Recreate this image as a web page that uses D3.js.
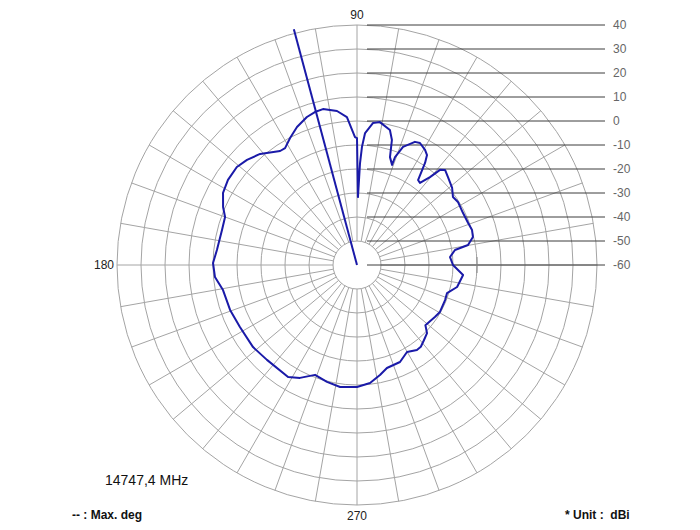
<!DOCTYPE html>
<html>
<head>
<meta charset="utf-8">
<script src="https://cdn.jsdelivr.net/npm/d3@7"></script>
<style>
  html, body { margin: 0; padding: 0; background: #ffffff; }
  svg { display: block; }
  text { white-space: pre; }
</style>
</head>
<body>
<div id="chart"></div>
<script>
// ---- data ----
const patternAngles = [0.0, 4.9, 8.7, 10.2, 13.6, 16.9, 20.7, 26.1, 32.0, 35.3, 39.0, 44.0, 47.2, 48.9,
  50.3, 52.5, 54.3, 56.3, 57.5, 59.4, 62.7, 64.8, 68.7, 70.6, 70.7, 73.0, 74.4, 76.3, 80.9, 83.6,
  86.5, 87.6, 88.3, 89.2, 90.0, 90.9, 92.1, 93.9, 97.4, 102.3, 105.4, 108.7, 113.5, 117.8, 121.6,
  124.0, 131.1, 136.3, 140.8, 146.6, 151.7, 156.6, 160.0, 165.5, 173.9, 179.2, 184.8, 190.6, 199.5,
  207.9, 218.3, 226.5, 238.4, 243.2, 249.1, 255.6, 262.1, 270.0, 276.3, 281.8, 286.2, 293.9, 299.9,
  305.2, 308.0, 311.5, 315.8, 318.6, 326.3, 330.5, 338.3, 342.7, 347.6, 354.6];
const patternGain = [-20.0, -21.1, -18.7, -13.0, -10.3, -9.9, -10.5, -10.8, -10.4, -11.0, -9.0, -7.3, -6.0, -7.4,
  -12.4, -16.9, -16.4, -8.9, -5.7, -4.3, -2.8, -3.3, -7.2, -12.3, -15.8, -13.0, -5.9, -2.1, 0.3, -0.5,
  -4.9, -10.8, -17.5, -31.7, -7.1, -6.7, -3.7, 1.8, 4.7, 6.5, 6.1, 5.1, 2.7, -0.2, -2.8,
  -2.7, 1.4, 3.4, 4.6, 4.4, 3.4, 0.8, -1.5, -1.9, -1.3, 0.0, -0.6, -3.2, -3.9,
  -4.8, -4.8, -5.5, -5.2, -7.3, -11.0, -9.7, -8.7, -9.2, -10.5, -13.2, -15.3, -15.8, -18.2,
  -16.7, -16.8, -18.0, -19.3, -22.0, -21.0, -20.3, -20.5, -20.7, -17.3, -15.6];
const maxDeg = 105;
const gainTicks = [40, 30, 20, 10, 0, -10, -20, -30, -40, -50, -60];
const ringValues = [-50, -40, -30, -20, -10, 0, 10, 20, 30, 40];
const spokeAngles = d3.range(0, 360, 10);
const angleLabels = ["90", "180", "270"];
const freqLabel = "14747,4 MHz";
const legendLabel = "-- : Max. deg";
const unitLabel = "* Unit :  dBi";

// ---- layout ----
const W = 700, H = 530;
const cx = 357, cy = 265, R = 240;
const r = d3.scaleLinear().domain([-60, 40]).range([0, R]);
const toRad = d => (90 - d) * Math.PI / 180; // d3 radial angle (clockwise from 12 o'clock)
const FONT = "Liberation Sans, Arial, sans-serif";

const svg = d3.select("#chart").append("svg").attr("width", W).attr("height", H);
const g = svg.append("g").attr("transform", `translate(${cx},${cy})`);

// spokes
g.append("g").selectAll("line").data(spokeAngles).join("line")
  .attr("x1", d => r(-50) * Math.cos(d * Math.PI / 180))
  .attr("y1", d => -r(-50) * Math.sin(d * Math.PI / 180))
  .attr("x2", d => r(40) * Math.cos(d * Math.PI / 180))
  .attr("y2", d => -r(40) * Math.sin(d * Math.PI / 180))
  .attr("stroke", "#a4a4a4").attr("stroke-width", 1);

// rings
g.append("g").selectAll("circle").data(ringValues).join("circle")
  .attr("r", d => r(d)).attr("fill", "none")
  .attr("stroke", "#a4a4a4").attr("stroke-width", 1);

// gain scale lines + labels
const lab = g.append("g");
lab.selectAll("line").data(gainTicks).join("line")
  .attr("x1", 10).attr("x2", R + 8)
  .attr("y1", d => -r(d)).attr("y2", d => -r(d))
  .attr("stroke", "#3c3c3c").attr("stroke-width", 1);
lab.selectAll("text").data(gainTicks).join("text")
  .attr("x", R + 16).attr("y", d => -r(d)).attr("dy", "0.35em")
  .attr("font-family", FONT).attr("font-size", 12)
  .attr("fill", "#666").text(d => d);

// small tick on the 0-degree axis
g.append("line").attr("x1", r(-10)).attr("x2", r(-10)).attr("y1", -8).attr("y2", 8)
  .attr("stroke", "#888").attr("stroke-width", 1);

// angle labels
g.append("text").attr("x", 0).attr("y", -R - 10).attr("text-anchor", "middle").attr("dy", "0.35em")
  .attr("font-family", FONT).attr("font-size", 12).attr("fill", "#222").text(angleLabels[0]);
g.append("text").attr("x", -R - 3).attr("y", 0).attr("text-anchor", "end").attr("dy", "0.35em")
  .attr("font-family", FONT).attr("font-size", 12).attr("fill", "#222").text(angleLabels[1]);
g.append("text").attr("x", 0).attr("y", R + 11).attr("text-anchor", "middle").attr("dy", "0.35em")
  .attr("font-family", FONT).attr("font-size", 12).attr("fill", "#222").text(angleLabels[2]);

// pattern
const pts = patternAngles.map((a, i) => ({a, v: patternGain[i]}));
const line = d3.lineRadial().angle(d => toRad(d.a)).radius(d => r(d.v)).curve(d3.curveLinearClosed);
g.append("path").datum(pts).attr("d", line)
  .attr("fill", "none").attr("stroke", "#1a1aa8").attr("stroke-width", 2).attr("stroke-linejoin", "round");

// max deg line
g.append("line").attr("x1", 0).attr("y1", 0)
  .attr("x2", (R + 4) * Math.cos(maxDeg * Math.PI / 180))
  .attr("y2", -(R + 4) * Math.sin(maxDeg * Math.PI / 180))
  .attr("stroke", "#1a1aa8").attr("stroke-width", 2);

// footer texts
svg.append("text").attr("x", 105).attr("y", 485)
  .attr("font-family", FONT).attr("font-size", 14).attr("fill", "#111").text(freqLabel);
svg.append("text").attr("x", 72).attr("y", 519)
  .attr("font-family", FONT).attr("font-size", 12).attr("font-weight", "bold").attr("fill", "#111").text(legendLabel);
svg.append("text").attr("x", 565).attr("y", 519)
  .attr("font-family", FONT).attr("font-size", 12).attr("font-weight", "bold").attr("fill", "#111").text(unitLabel);
</script>
</body>
</html>
